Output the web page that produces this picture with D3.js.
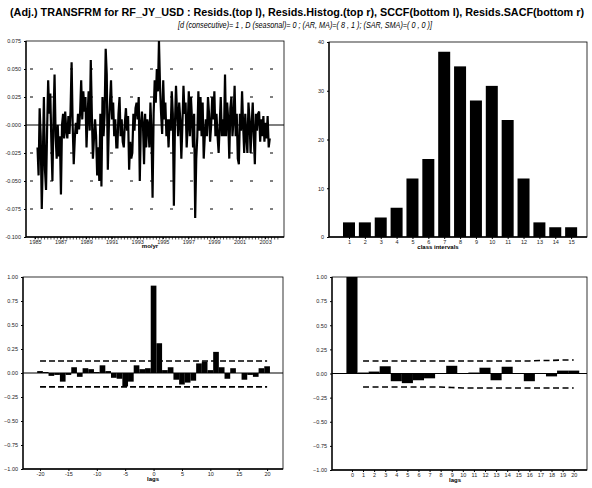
<!DOCTYPE html>
<html><head><meta charset="utf-8">
<script src="https://cdn.jsdelivr.net/npm/d3@7"></script>
<style>
body{margin:0;background:#fff;}
svg{display:block;font-family:"Liberation Sans",Arial,sans-serif;}
</style></head>
<body><svg id="c" width="592" height="488"></svg>
<script>
// ---------- DATA ----------
const titleText = "(Adj.) TRANSFRM for RF_JY_USD : Resids.(top l), Resids.Histog.(top r), SCCF(bottom l), Resids.SACF(bottom r)";
const subtitleText = "[d (consecutive)= 1 , D (seasonal)= 0 ; (AR, MA)=( 8 , 1 ); (SAR, SMA)=( 0 , 0 )]";

const residStart = 1985.2;  // first month (decimal year)
const residuals = [
 -0.020,-0.045,0.015,-0.010,-0.075,-0.030,0.025,-0.040,-0.058,-0.005,0.040,0.010,0.028,-0.015,-0.050,0.005,0.045,-0.010,-0.030,0.000,-0.028,-0.010,-0.062,0.000,0.010,-0.012,0.012,
 -0.005,-0.012,0.008,-0.008,0.012,0.056,0.000,-0.035,-0.012,0.002,-0.008,0.010,-0.004,0.012,0.040,0.005,0.030,0.012,0.025,-0.020,0.008,0.030,-0.005,0.058,0.010,-0.030,-0.012,0.005,-0.010,-0.045,-0.020,
 -0.050,0.010,-0.055,0.025,-0.010,0.010,0.068,0.045,-0.040,0.000,0.020,0.040,0.005,0.020,-0.010,0.005,-0.020,-0.020,0.010,0.025,-0.010,0.005,-0.015,-0.020,0.002,0.015,-0.005,0.008,-0.040,-0.015,-0.030,
 -0.025,0.010,-0.005,0.015,0.020,0.005,0.025,-0.050,0.000,0.012,0.000,-0.035,0.010,-0.020,0.005,0.000,-0.020,0.020,-0.008,-0.065,0.010,0.040,0.020,0.050,0.030,0.075,0.035,0.010,-0.008,0.040,0.005,
 0.020,-0.010,0.005,-0.020,0.005,-0.005,0.030,0.010,-0.072,0.000,0.035,0.010,-0.010,0.020,0.005,-0.030,0.000,0.035,0.010,0.020,-0.020,0.000,0.030,-0.010,0.025,0.005,-0.020,0.010,-0.083,-0.030,-0.010,
 0.030,-0.005,0.025,-0.010,0.020,-0.030,-0.010,0.005,-0.010,0.025,0.010,-0.015,0.000,0.025,0.005,0.030,-0.010,0.010,-0.010,-0.025,0.000,0.025,-0.010,0.005,-0.010,0.045,-0.010,0.020,0.005,-0.030,0.015,
 0.025,-0.010,0.005,0.035,-0.010,0.010,-0.030,-0.035,0.010,-0.005,0.030,0.000,-0.025,0.010,-0.010,-0.025,0.020,0.005,-0.025,0.000,0.020,-0.010,-0.035,0.010,-0.005,0.010,0.012,-0.015,0.005,-0.010,0.008,-0.015,0.002,-0.012,0.008,-0.020,-0.012
];
const residYTicks = [0.075,0.050,0.025,0.000,-0.025,-0.050,-0.075,-0.100];
const residYTickLabels = ["0.075","0.050","0.025","-0.000","-0.025","-0.050","-0.075","-0.100"];
const residGridLevels = [0.050,0.025,-0.025,-0.050,-0.075];
const yearTicks = [1985,1987,1989,1991,1993,1995,1997,1999,2001,2003];

const histClasses = [1,2,3,4,5,6,7,8,9,10,11,12,13,14,15];
const histCounts  = [3,3,4,6,12,16,38,35,28,31,24,12,3,2,2];
const histYTicks  = [0,10,20,30,40];

const sccfLags = d3.range(-20,21);
const sccfValues = [0.02,0.01,-0.03,-0.02,-0.09,-0.02,0.06,-0.04,0.05,0.04,0.01,0.08,0.02,-0.05,-0.06,-0.14,-0.09,0.08,0.04,0.05,
  0.91,0.31,0.03,0.06,-0.07,-0.12,-0.10,-0.08,0.10,0.12,0.03,0.22,0.06,-0.06,0.05,0.00,-0.07,-0.02,-0.04,0.05,0.07];
const sccfBandUpper = 0.125, sccfBandLower = -0.145;
const sccfXTicks = [-20,-15,-10,-5,0,5,10,15,20];

const sacfLags = d3.range(0,21);
const sacfValues = [1.00,0.01,0.02,0.075,-0.08,-0.10,-0.07,-0.05,0.00,0.08,0.00,0.01,0.06,-0.07,0.07,0.00,-0.08,0.00,-0.03,0.03,0.03];
const sacfBandUpper = [null,0.13,0.13,0.13,0.13,0.13,0.13,0.13,0.13,0.13,0.13,0.13,0.13,0.13,0.13,0.13,0.13,0.135,0.135,0.14,0.14];
const sacfBandLower = [null,-0.14,-0.14,-0.14,-0.14,-0.14,-0.14,-0.14,-0.14,-0.145,-0.15,-0.15,-0.15,-0.15,-0.15,-0.15,-0.15,-0.15,-0.15,-0.15,-0.15];
const acfYTicks = [1.00,0.75,0.50,0.25,0.00,-0.25,-0.50,-0.75,-1.00];

// ---------- DRAW ----------
const svg = d3.select("#c");
const tickFont = 5.5;

svg.append("text").attr("x",297).attr("y",16).attr("text-anchor","middle")
  .attr("font-size",10.5).attr("font-weight","bold").attr("textLength",574).attr("lengthAdjust","spacingAndGlyphs")
  .text(titleText);
svg.append("text").attr("x",305).attr("y",28).attr("text-anchor","middle")
  .attr("font-size",9).attr("font-style","italic").attr("textLength",254).attr("lengthAdjust","spacingAndGlyphs")
  .text(subtitleText);

function frame(x0,x1,y0,y1){
  svg.append("rect").attr("x",x0).attr("y",y0).attr("width",x1-x0).attr("height",y1-y0)
    .attr("fill","none").attr("stroke","#000").attr("stroke-width",0.8);
  svg.append("line").attr("x1",x0).attr("x2",x0).attr("y1",y0).attr("y2",y1).attr("stroke","#000").attr("stroke-width",1.3);
  svg.append("line").attr("x1",x0).attr("x2",x1).attr("y1",y1).attr("y2",y1).attr("stroke","#000").attr("stroke-width",1.3);
}
function yAxis(scale,x,ticks,labels){
  const g = svg.append("g").attr("transform",`translate(${x},0)`)
    .call(d3.axisLeft(scale).tickValues(ticks).tickSize(2).tickFormat((d,i)=>labels?labels[i]:d));
  g.select(".domain").remove();
  g.selectAll("text").attr("font-size",tickFont).attr("fill","#222").attr("font-family","Liberation Sans, Arial, sans-serif");
  g.selectAll("line").attr("stroke","#000");
  return g;
}
function xAxis(scale,y,ticks,fmt){
  const g = svg.append("g").attr("transform",`translate(0,${y})`)
    .call(d3.axisBottom(scale).tickValues(ticks).tickSize(2).tickPadding(1).tickFormat(fmt||(d=>d)));
  g.select(".domain").remove();
  g.selectAll("text").attr("font-size",tickFont).attr("fill","#222").attr("font-family","Liberation Sans, Arial, sans-serif");
  g.selectAll("line").attr("stroke","#000");
  return g;
}
function axisTitle(x,y,t){
  svg.append("text").attr("x",x).attr("y",y).attr("text-anchor","middle").attr("font-size",6).attr("font-weight","bold").text(t);
}

// ---- Top-left: residuals ----
{
  const x = d3.scaleLinear().domain([1984.3,2004.48]).range([26,284]);
  const y = d3.scaleLinear().domain([-0.100,0.075]).range([237,41]);
  residGridLevels.forEach(v=>{
    svg.append("line").attr("x1",30).attr("x2",282).attr("y1",y(v)).attr("y2",y(v))
      .attr("stroke","#000").attr("stroke-width",1).attr("stroke-dasharray","3,17");
  });
  svg.append("line").attr("x1",26).attr("x2",284).attr("y1",y(0)).attr("y2",y(0)).attr("stroke","#000").attr("stroke-width",1.2);
  const line = d3.line().x((d,i)=>x(residStart+i/12)).y(d=>y(d));
  svg.append("path").datum(residuals).attr("d",line).attr("fill","none").attr("stroke","#000")
    .attr("stroke-width",2.2).attr("stroke-linejoin","miter").attr("stroke-miterlimit",3);
  frame(26,284,41,237);
  yAxis(y,26,residYTicks,residYTickLabels);
  // quarterly minor ticks
  const minor = d3.range(1985,2004.01,0.25);
  svg.append("g").selectAll("line").data(minor).join("line")
    .attr("x1",d=>x(d)).attr("x2",d=>x(d)).attr("y1",237).attr("y2",239.5).attr("stroke","#000").attr("stroke-width",0.7);
  xAxis(x,237,yearTicks);
  axisTitle(150,248,"mo/yr");
}

// ---- Top-right: histogram ----
{
  const x = d3.scaleLinear().domain([-0.26,16.0]).range([329,587]);
  const y = d3.scaleLinear().domain([0,40]).range([237,42]);
  const bw = 12;
  svg.append("g").selectAll("rect").data(histCounts).join("rect")
    .attr("x",(d,i)=>x(histClasses[i])-bw/2).attr("width",bw)
    .attr("y",d=>y(d)).attr("height",d=>y(0)-y(d)).attr("fill","#000");
  frame(329,587,42,237);
  yAxis(y,329,histYTicks);
  xAxis(x,237,histClasses);
  axisTitle(438,249,"class intervals");
}

// ---- Bottom-left: SCCF ----
{
  const x = d3.scaleLinear().domain([-23,22.8]).range([23,283]);
  const y = d3.scaleLinear().domain([-1,1]).range([469,277]);
  const bw = x(1)-x(0);
  svg.append("g").selectAll("rect").data(sccfValues).join("rect")
    .attr("x",(d,i)=>x(sccfLags[i])-bw/2).attr("width",bw)
    .attr("y",d=>y(Math.max(0,d))).attr("height",d=>Math.abs(y(d)-y(0))).attr("fill","#000");
  svg.append("line").attr("x1",23).attr("x2",283).attr("y1",y(0)).attr("y2",y(0)).attr("stroke","#000").attr("stroke-width",1.2);
  [sccfBandUpper,sccfBandLower].forEach(v=>{
    svg.append("line").attr("x1",x(-20)).attr("x2",x(20)).attr("y1",y(v)).attr("y2",y(v))
      .attr("stroke","#000").attr("stroke-width",1.6).attr("stroke-dasharray","6,3");
  });
  frame(23,283,277,469);
  yAxis(y,23,acfYTicks,acfYTicks.map(d3.format(".2f")));
  xAxis(x,469,sccfXTicks);
  axisTitle(153,481,"lags");
}

// ---- Bottom-right: SACF ----
{
  const x = d3.scaleLinear().domain([-1.8,21.2]).range([332,587]);
  const y = d3.scaleLinear().domain([-1,1]).range([470,277]);
  const bw = x(1)-x(0);
  svg.append("g").selectAll("rect").data(sacfValues).join("rect")
    .attr("x",(d,i)=>x(sacfLags[i])-bw/2).attr("width",bw)
    .attr("y",d=>y(Math.max(0,d))).attr("height",d=>Math.abs(y(d)-y(0))).attr("fill","#000");
  svg.append("line").attr("x1",332).attr("x2",587).attr("y1",y(0)).attr("y2",y(0)).attr("stroke","#000").attr("stroke-width",1.2);
  const band = d3.line().defined(d=>d!=null).x((d,i)=>x(i)).y(d=>y(d));
  [sacfBandUpper,sacfBandLower].forEach(arr=>{
    svg.append("path").datum(arr).attr("d",band).attr("fill","none")
      .attr("stroke","#000").attr("stroke-width",1.6).attr("stroke-dasharray","6,3.5");
  });
  frame(332,587,277,470);
  yAxis(y,332,acfYTicks,acfYTicks.map(d3.format(".2f")));
  xAxis(x,470,sacfLags);
  axisTitle(455,482,"lags");
}
</script></body></html>
